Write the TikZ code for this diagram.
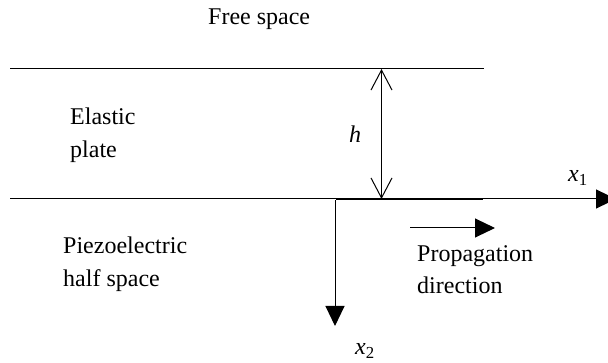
\documentclass[tikz,border=0pt]{standalone}
\usepackage{fontspec}
\setmainfont{Liberation Serif}
\usetikzlibrary{arrows.meta}
\begin{document}
\begin{tikzpicture}[x=1pt,y=-1pt,
  lbl/.style={anchor=base west,inner sep=0pt,font=\fontsize{24}{33}\selectfont},
  thinline/.style={line width=1pt},
  openarr/.style={line width=1pt,{Straight Barb[length=20pt,width=21pt]}-{Straight Barb[length=20pt,width=21pt]}},
  solidarr/.style={line width=1pt,-{Triangle[length=20pt,width=19pt]}}]
\useasboundingbox (0,0) rectangle (608,363);
\clip (0,0) rectangle (608,363);
% coordinates
\coordinate (tl) at (10,69);
\coordinate (tr) at (484,69);
\coordinate (bl) at (10,199);
\coordinate (br) at (616,199);
\coordinate (o) at (336,199);
\coordinate (te) at (483,199);
\coordinate (ht) at (381.5,69);
\coordinate (hb) at (381.5,199);
\coordinate (x2s) at (335,200);
\coordinate (x2e) at (335,326);
\coordinate (ps) at (410,228);
\coordinate (pe) at (495,228);
% lines
\draw[thinline] (tl) -- (tr);
\draw[solidarr] (bl) -- (br);
\draw[line width=2.2pt] (o) -- (te);
\draw[openarr] (ht) -- (hb);
\draw[solidarr] (x2s) -- (x2e);
\draw[solidarr] (ps) -- (pe);
% labels
\node[lbl] (fs) at (208,25) {Free space};
\node[lbl] (el) at (70,125) {Elastic};
\node[lbl] (pl) at (70,158) {plate};
\node[lbl] (pz) at (63,254) {Piezoelectric};
\node[lbl] (hs) at (63,287) {half space};
\node[lbl] (pr) at (417,262) {Propagation};
\node[lbl] (di) at (417,294) {direction};
\node[lbl] (h) at (349,143) {\itshape h};
\node[lbl] (x1) at (568,182) {\itshape x\textsubscript{\upshape 1}};
\node[lbl] (x2) at (355,355) {\itshape x\textsubscript{\upshape 2}};
\end{tikzpicture}
\end{document}
